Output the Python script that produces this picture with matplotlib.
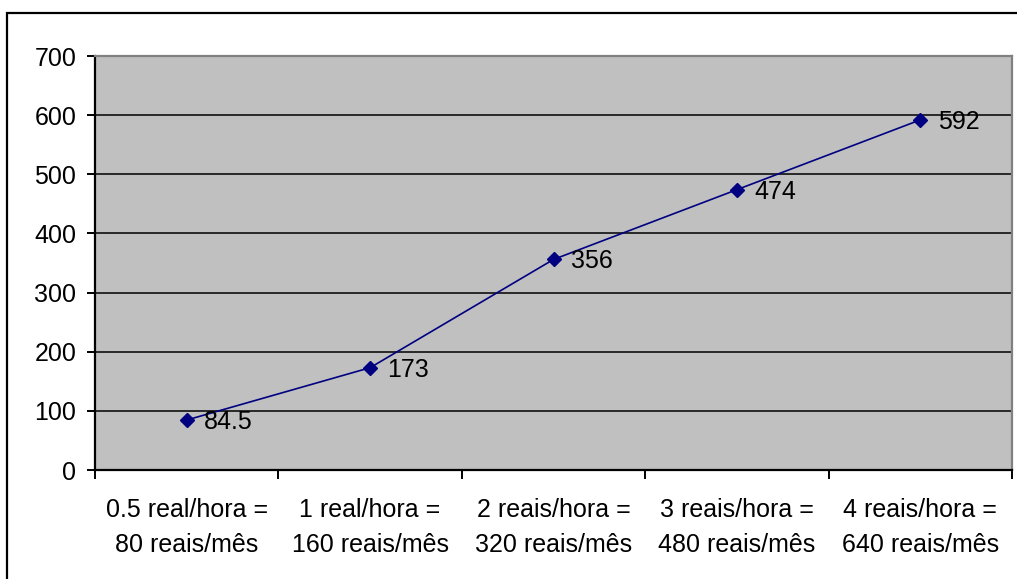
import matplotlib.pyplot as plt
from matplotlib.patches import Rectangle

plt.rcParams['font.family'] = ['Liberation Sans', 'DejaVu Sans']

categories = ['0.5 real/hora =\n80 reais/mês', '1 real/hora =\n160 reais/mês',
              '2 reais/hora =\n320 reais/mês', '3 reais/hora =\n480 reais/mês',
              '4 reais/hora =\n640 reais/mês']
values = [84.5, 173, 356, 474, 592]
value_labels = ['84.5', '173', '356', '474', '592']

W, H = 1017, 579
fig = plt.figure(figsize=(W / 100, H / 100), dpi=100)

# outer chart frame (runs off the right and bottom edges)
fig.patches.append(Rectangle((7 / W, -0.05), 1.1, (H - 13) / H + 0.05,
                             transform=fig.transFigure, fill=False,
                             edgecolor='black', linewidth=1.6))

left, right, top, bottom = 95, 1012, 56, 470
ax = fig.add_axes([left / W, 1 - bottom / H, (right - left) / W, (bottom - top) / H])
ax.set_facecolor('#C0C0C0')

x = list(range(len(values)))
ax.plot(x, values, color='#000080', linewidth=1.2, marker='D', markersize=7.5,
        markerfacecolor='#000080', markeredgecolor='#000080', zorder=3)
for xi, v, lab in zip(x, values, value_labels):
    ax.annotate(lab, (xi, v), xytext=(12.5, -6.5), textcoords='offset points',
                ha='left', va='baseline', fontsize=18, color='black')

ax.set_xlim(-0.5, len(values) - 0.5)
ax.set_ylim(0, 700)
ax.set_yticks(range(0, 701, 100))
ax.yaxis.grid(True, color='black', linewidth=1.1)
ax.set_axisbelow(True)

ax.set_xticks([i - 0.5 for i in range(len(values) + 1)])
ax.set_xticklabels([])
ax.set_xticks(x, minor=True)
ax.set_xticklabels(categories, minor=True, fontsize=18, linespacing=1.57)
ax.tick_params(axis='x', which='minor', length=0, pad=20)
ax.tick_params(axis='x', which='major', length=6.5, direction='out', width=1.4)
ax.tick_params(axis='y', length=5.5, direction='out', width=1.4, labelsize=18, pad=8)

for s in ['top', 'right']:
    ax.spines[s].set_color('#808080')
    ax.spines[s].set_linewidth(1.6)
for s in ['left', 'bottom']:
    ax.spines[s].set_color('black')
    ax.spines[s].set_linewidth(1.6)

fig.savefig('out.png', dpi=100)
